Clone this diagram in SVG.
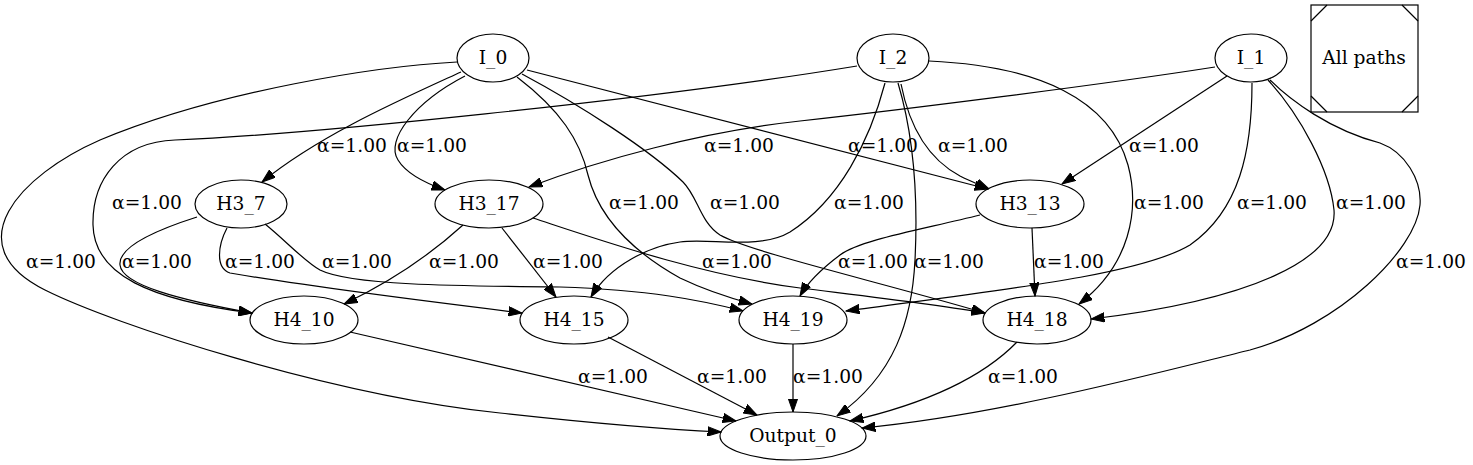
<svg xmlns="http://www.w3.org/2000/svg" width="1473" height="465" viewBox="0 0 1473 465">
<defs>
<style>
.node ellipse, .node path, .node rect {fill:none;stroke:#000;stroke-width:1.2}
.edges path {fill:none;stroke:#000;stroke-width:1.2;marker-end:url(#arr)}
text {font-family:"DejaVu Serif", serif;font-size:18.67px;text-anchor:middle;fill:#000}
</style>
<marker id="arr" viewBox="0 0 14 10" refX="13.4" refY="5" markerWidth="14" markerHeight="10" markerUnits="userSpaceOnUse" orient="auto">
<path d="M0,0.3 L13.4,5 L0,9.7 z" fill="#000" stroke="#000" stroke-width="1"/>
</marker>
</defs>
<rect width="1473" height="465" fill="#fff"/>
<g id="edges" class="edges">
<g id="e_I0_Out"><path d="M457,62 C380,66 220,90 100,140 C20,175 -45,245 45,290 C115,325 330,395 500,413 C590,423 660,429 721,432"/><text x="61" y="268">α=1.00</text></g>
<g id="e_I0_H3_7"><path d="M461,72 C400,100 320,135 262,182"/><text x="352" y="152">α=1.00</text></g>
<g id="e_I0_H3_17"><path d="M465,76 C415,102 385,140 398,160 C406,173 422,182 445,190"/><text x="432" y="152">α=1.00</text></g>
<g id="e_I0_H4_19"><path d="M517,77 C560,110 580,140 588,175 C598,215 630,250 680,278 C705,290 730,298 752,304"/><text x="644" y="209">α=1.00</text></g>
<g id="e_I0_H4_18"><path d="M522,74 C580,105 650,150 683,182 C698,197 700,222 720,235 C750,252 880,282 985,313"/><text x="745" y="209">α=1.00</text></g>
<g id="e_I0_H3_13"><path d="M527,70 L988,189"/><text x="883" y="152">α=1.00</text></g>
<g id="e_I2_H4_10"><path d="M857,66 C650,100 300,135 175,140 C120,142 92,180 93,225 C94,275 150,300 252,313"/><text x="147" y="209">α=1.00</text></g>
<g id="e_I2_H4_15"><path d="M885,83 C870,140 840,200 790,232 C760,250 710,238 680,242 C650,246 610,265 591,297"/><text x="869" y="209">α=1.00</text></g>
<g id="e_I2_Out"><path d="M898,83 C915,140 918,200 915,260 C912,320 895,375 837,416"/><text x="949" y="268">α=1.00</text></g>
<g id="e_I2_H3_13"><path d="M901,84 C910,130 930,160 960,176 C970,181 980,185 989,189"/><text x="973" y="152">α=1.00</text></g>
<g id="e_I2_H4_18"><path d="M929,61 C1040,66 1110,100 1128,165 C1140,210 1130,265 1079,304"/><text x="1169" y="209">α=1.00</text></g>
<g id="e_I1_H3_17"><path d="M1215,67 C1100,85 900,110 800,121 C700,132 600,160 529,187"/><text x="739" y="152">α=1.00</text></g>
<g id="e_I1_H3_13"><path d="M1227,76 L1062,184"/><text x="1164" y="152">α=1.00</text></g>
<g id="e_I1_H4_19"><path d="M1252,83 C1252,150 1240,210 1190,245 C1140,275 1000,290 846,311"/><text x="1272" y="209">α=1.00</text></g>
<g id="e_I1_H4_18"><path d="M1268,80 C1300,115 1330,170 1334,210 C1338,260 1250,300 1091,319"/><text x="1371" y="209">α=1.00</text></g>
<g id="e_I1_Out"><path d="M1270,80 C1290,100 1330,130 1380,143 C1405,152 1422,180 1420,205 C1416,250 1340,325 1250,350 C1160,372 1000,415 862,428"/><text x="1431" y="268">α=1.00</text></g>
<g id="e_H3_7_H4_10"><path d="M197,217 C150,232 118,248 120,265 C122,285 180,300 252,313"/><text x="157" y="268">α=1.00</text></g>
<g id="e_H3_7_H4_15"><path d="M227,228 C218,245 215,268 230,273 C300,285 440,303 522,313"/><text x="260" y="268">α=1.00</text></g>
<g id="e_H3_7_H4_19"><path d="M265,224 C285,240 305,262 320,270 C350,285 450,286 560,287 C650,290 700,300 743,311"/><text x="357" y="268">α=1.00</text></g>
<g id="e_H3_17_H4_10"><path d="M463,225 C430,255 390,282 344,304"/><text x="464" y="268">α=1.00</text></g>
<g id="e_H3_17_H4_15"><path d="M502,228 L556,297"/><text x="568" y="268">α=1.00</text></g>
<g id="e_H3_17_H4_18"><path d="M533,218 C600,240 700,275 800,288 C880,298 940,305 985,313"/><text x="737" y="268">α=1.00</text></g>
<g id="e_H3_13_H4_19"><path d="M980,215 C920,230 860,240 840,255 C820,270 808,282 800,296"/><text x="873" y="268">α=1.00</text></g>
<g id="e_H3_13_H4_18"><path d="M1032,228 L1035,296"/><text x="1069" y="268">α=1.00</text></g>
<g id="e_H4_10_Out"><path d="M350,332 L736,421"/><text x="613" y="383">α=1.00</text></g>
<g id="e_H4_15_Out"><path d="M608,337 L757,415"/><text x="732" y="383">α=1.00</text></g>
<g id="e_H4_19_Out"><path d="M793,344 L793,412"/><text x="828" y="383">α=1.00</text></g>
<g id="e_H4_18_Out"><path d="M1017,342 C980,380 920,405 850,421"/><text x="1023" y="383">α=1.00</text></g>
</g>
<g id="I_0" class="node"><ellipse cx="493" cy="58" rx="36" ry="24"/><text x="493" y="64">I_0</text></g>
<g id="I_2" class="node"><ellipse cx="893" cy="58" rx="36" ry="24"/><text x="893" y="64">I_2</text></g>
<g id="I_1" class="node"><ellipse cx="1251" cy="58" rx="36" ry="24"/><text x="1251" y="64">I_1</text></g>
<g id="H3_7" class="node"><ellipse cx="241" cy="204" rx="46" ry="24"/><text x="241" y="210">H3_7</text></g>
<g id="H3_17" class="node"><ellipse cx="489" cy="204" rx="54" ry="24"/><text x="489" y="210">H3_17</text></g>
<g id="H3_13" class="node"><ellipse cx="1030" cy="204" rx="54" ry="24"/><text x="1030" y="210">H3_13</text></g>
<g id="H4_10" class="node"><ellipse cx="304" cy="320" rx="54" ry="24"/><text x="304" y="326">H4_10</text></g>
<g id="H4_15" class="node"><ellipse cx="574" cy="320" rx="54" ry="24"/><text x="574" y="326">H4_15</text></g>
<g id="H4_19" class="node"><ellipse cx="793" cy="320" rx="54" ry="24"/><text x="793" y="326">H4_19</text></g>
<g id="H4_18" class="node"><ellipse cx="1037" cy="320" rx="54" ry="24"/><text x="1037" y="326">H4_18</text></g>
<g id="Output_0" class="node"><ellipse cx="793" cy="436" rx="73" ry="24"/><text x="793" y="442">Output_0</text></g>
<g id="All_paths" class="node"><rect x="1311" y="5" width="107" height="107"/><path d="M1311,21 L1327,5 M1402,5 L1418,21 M1418,96 L1402,112 M1327,112 L1311,96"/><text x="1364" y="64">All paths</text></g>
</svg>
